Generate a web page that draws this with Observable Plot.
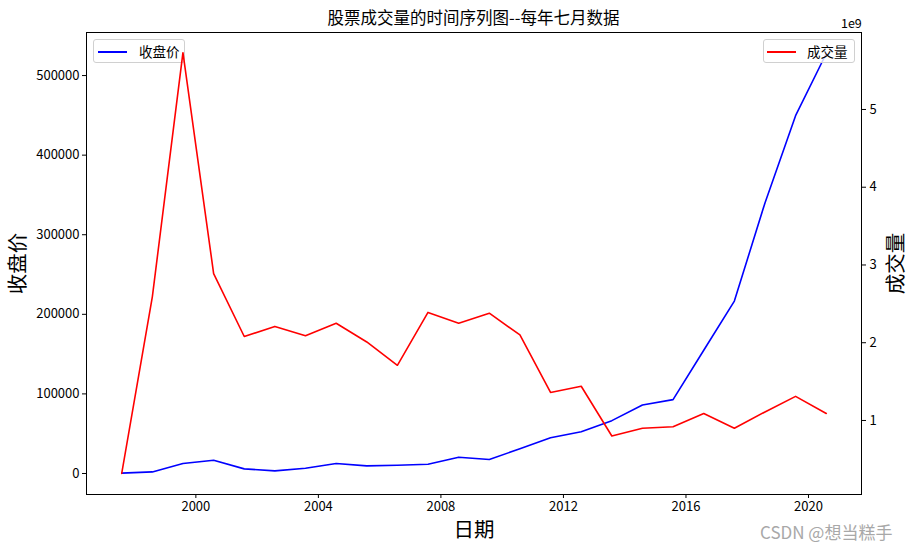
<!DOCTYPE html>
<html>
<head>
<meta charset="utf-8">
<script src="https://cdn.jsdelivr.net/npm/d3@7"></script>
<script src="https://cdn.jsdelivr.net/npm/@observablehq/plot@0.6"></script>
<style>
  body { margin: 0; background: #fff; font-family: "Noto Sans CJK SC", "DejaVu Sans", sans-serif; }
  #wrap { position: relative; width: 912px; height: 550px; overflow: hidden; }
  .title { position: absolute; left: 86px; width: 775px; top: 6px; text-align: center; font-size: 16.5px; line-height: 22px; color: #000; }
  .layer { position: absolute; left: 0; top: 26px; }
  .legend { position: absolute; box-sizing: border-box; height: 24px; border: 1px solid #d0d0d0; border-radius: 3px; background: rgba(255,255,255,0.8); font-size: 13.5px; line-height: 22px; color: #000; white-space: nowrap; }
  .legend .sw { position: absolute; top: 10.5px; width: 29px; height: 0; border-top: 2px solid; }
  .legend .lt { position: absolute; top: 0; }
  .offset { position: absolute; left: 841px; top: 13px; font-size: 12.5px; color: #000; }
  .wm { position: absolute; left: 760px; top: 519px; font-size: 17px; color: #a8a8a8; white-space: nowrap; }
</style>
</head>
<body>
<div id="wrap">
  <div class="title" id="title"></div>
  <div class="layer" id="layer1"></div>
  <div class="legend" style="left:93px;top:39px;width:92px;">
    <span class="sw" style="left:4px;border-color:blue;"></span><span class="lt" style="left:45px;">收盘价</span>
  </div>
  <div class="layer" id="layer2"></div>
  <div class="legend" style="left:763px;top:39px;width:92px;">
    <span class="sw" style="left:3px;border-color:red;"></span><span class="lt" style="left:43px;">成交量</span>
  </div>
  <div class="offset">1e9</div>
  <div class="wm">CSDN @想当糕手</div>
</div>
<script>
// ---- data (July of each year) ----
const titleText = "股票成交量的时间序列图--每年七月数据";
const years = [1997, 1998, 1999, 2000, 2001, 2002, 2003, 2004, 2005, 2006, 2007, 2008,
               2009, 2010, 2011, 2012, 2013, 2014, 2015, 2016, 2017, 2018, 2019, 2020];
const closePrice = [500, 2000, 12500, 16700, 5800, 3300, 6600, 12500, 9600, 10400, 11700, 20500,
                    17600, 31000, 44900, 52500, 66400, 86000, 92800, 154900, 216600, 340000, 449600, 527700];
const volume = [0.32e9, 2.59e9, 5.73e9, 2.89e9, 2.08e9, 2.21e9, 2.09e9, 2.25e9, 2.01e9, 1.71e9, 2.39e9, 2.25e9,
                2.38e9, 2.10e9, 1.36e9, 1.44e9, 0.80e9, 0.90e9, 0.92e9, 1.09e9, 0.90e9, 1.11e9, 1.31e9, 1.09e9];
const xTickYears = [2000, 2004, 2008, 2012, 2016, 2020];
const priceTicks = [0, 100000, 200000, 300000, 400000, 500000];
const volumeTicks = [1e9, 2e9, 3e9, 4e9, 5e9];
const labels = { x: "日期", yLeft: "收盘价", yRight: "成交量" };

const data = years.map((y, i) => ({ date: new Date(Date.UTC(y, 6, 31)), close: closePrice[i], vol: volume[i] }));
const xDomain = [new Date(Date.UTC(1996, 5, 6)), new Date(Date.UTC(2021, 8, 24))];
const xTicks = xTickYears.map(y => new Date(Date.UTC(y, 0, 1)));

document.getElementById("title").textContent = titleText;

const font = "'Noto Sans CJK SC', 'DejaVu Sans', sans-serif";
const common = {
  width: 912, height: 524,
  marginLeft: 86, marginRight: 51, marginTop: 6, marginBottom: 56
};

const p1 = Plot.plot({
  ...common,
  style: { fontFamily: font, fontSize: "13px", background: "white", color: "black", overflow: "visible" },
  x: { type: "utc", domain: xDomain, ticks: xTicks, tickFormat: d => String(d.getUTCFullYear()), tickSize: 4, tickPadding: 3, label: null },
  y: { domain: [-26400, 554100], ticks: priceTicks, tickFormat: d => String(d), tickSize: 4, tickPadding: 3, label: null },
  marks: [
    Plot.frame({ stroke: "black", strokeWidth: 1 }),
    Plot.line(data, { x: "date", y: "close", stroke: "blue", strokeWidth: 1.6 }),
    Plot.text([labels.yLeft], { text: d => d, frameAnchor: "left", dx: -68, rotate: -90, fontSize: 20.5, textAnchor: "middle", lineAnchor: "middle" }),
    Plot.text([labels.x], { text: d => d, frameAnchor: "bottom", dy: 36, fontSize: 20.5, textAnchor: "middle", lineAnchor: "middle" })
  ]
});
document.getElementById("layer1").appendChild(p1);

const p2 = Plot.plot({
  ...common,
  style: { fontFamily: font, fontSize: "13px", background: "transparent", color: "black", overflow: "visible" },
  x: { type: "utc", domain: xDomain, axis: null },
  y: { domain: [0.048e9, 5.99e9], axis: "right", ticks: volumeTicks, tickFormat: d => String(d / 1e9), tickSize: 4, tickPadding: 4, label: null },
  marks: [
    Plot.line(data, { x: "date", y: "vol", stroke: "red", strokeWidth: 1.6 }),
    Plot.text([labels.yRight], { text: d => d, frameAnchor: "right", dx: 35, rotate: -90, fontSize: 20.5, textAnchor: "middle", lineAnchor: "middle" })
  ]
});
document.getElementById("layer2").appendChild(p2);
</script>
</body>
</html>
